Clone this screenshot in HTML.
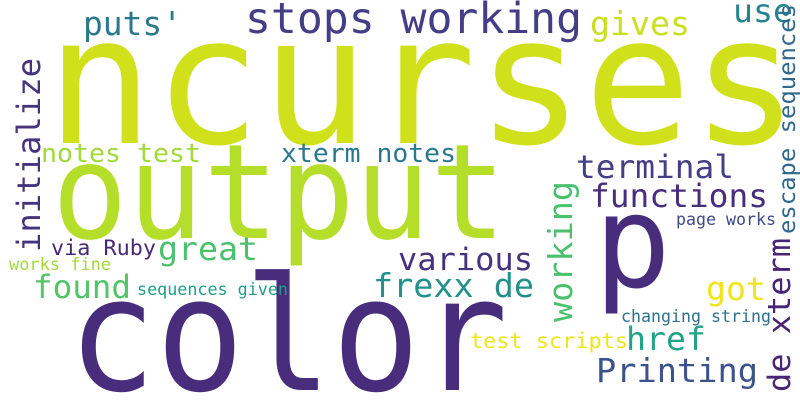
<!DOCTYPE html>
<html><head><meta charset="utf-8"><style>
html,body{margin:0;padding:0;background:#fff;width:800px;height:400px;overflow:hidden;}
svg{display:block;}
text{font-family:"DejaVu Sans Mono","Liberation Mono",monospace;}
</style></head><body>
<svg id="cloud" width="800" height="400" viewBox="0 0 800 400" xmlns="http://www.w3.org/2000/svg" overflow="hidden">
<rect width="800" height="400" fill="#fff"/>
</svg>
<script>
const words = ["ncurses","output","color","p","stops working","puts'","gives","use","notes test","xterm notes","terminal","functions","great","various","via Ruby","works fine","found","frexx de","sequences given","got","href","Printing","test scripts","changing string","page works","initialize","working","escape sequences","de xterm"];
const sizes = [178,132,158,128,43,33,33,32,26,26,32,32,32,31,21,16.5,32,33,16.5,32,32,33,21.7,16.5,16.5,32,33,23.5,31];
const colors = ["#d0e11c","#b5de2b","#472d7b","#472d7b","#433e85","#2a788e","#c8e020","#26828e","#a0da39","#2a788e","#433e85","#472d7b","#4ac16d","#46337e","#482878","#a0da39","#52c569","#21918c","#1f9e89","#f0e51c","#20a386","#3b528b","#f0e41c","#2c728e","#3e4a89","#46337e","#4ac16d","#31688e","#482475"];
const layoutX = [46,52,68,594,245,83,590,733,41,281,576,590,158,398,51,9,33,373,137,706,626,596,470,621,676,40,572,795,790];
const layoutY = [143,238,390,287,33,35,35,22,162,162,178,207,260,270,255,270,298,297,295,300,350,382,348,322,225,252,322,234,392];
const layoutL = [753,454,440,77,337,99,100,60,160,175,158,178,100,135,105,102,98,161,151,60,80,162,158,150,100,194,141,230,154];
const vertical = [0,0,0,0,0,0,0,0,0,0,0,0,0,0,0,0,0,0,0,0,0,0,0,0,0,1,1,1,1];
const svg = document.getElementById('cloud');
const NS = "http://www.w3.org/2000/svg";
words.forEach((w,i)=>{
  const t = document.createElementNS(NS,'text');
  t.textContent = w;
  t.setAttribute('font-size', sizes[i]);
  t.setAttribute('fill', colors[i]);
  t.setAttribute('textLength', layoutL[i]);
  t.setAttribute('lengthAdjust', 'spacingAndGlyphs');
  if (vertical[i]) {
    t.setAttribute('x', 0); t.setAttribute('y', 0);
    t.setAttribute('transform', 'translate(' + layoutX[i] + ',' + layoutY[i] + ') rotate(-90)');
  } else {
    t.setAttribute('x', layoutX[i]); t.setAttribute('y', layoutY[i]);
  }
  
  
  svg.appendChild(t);
});
</script>
</body></html>
